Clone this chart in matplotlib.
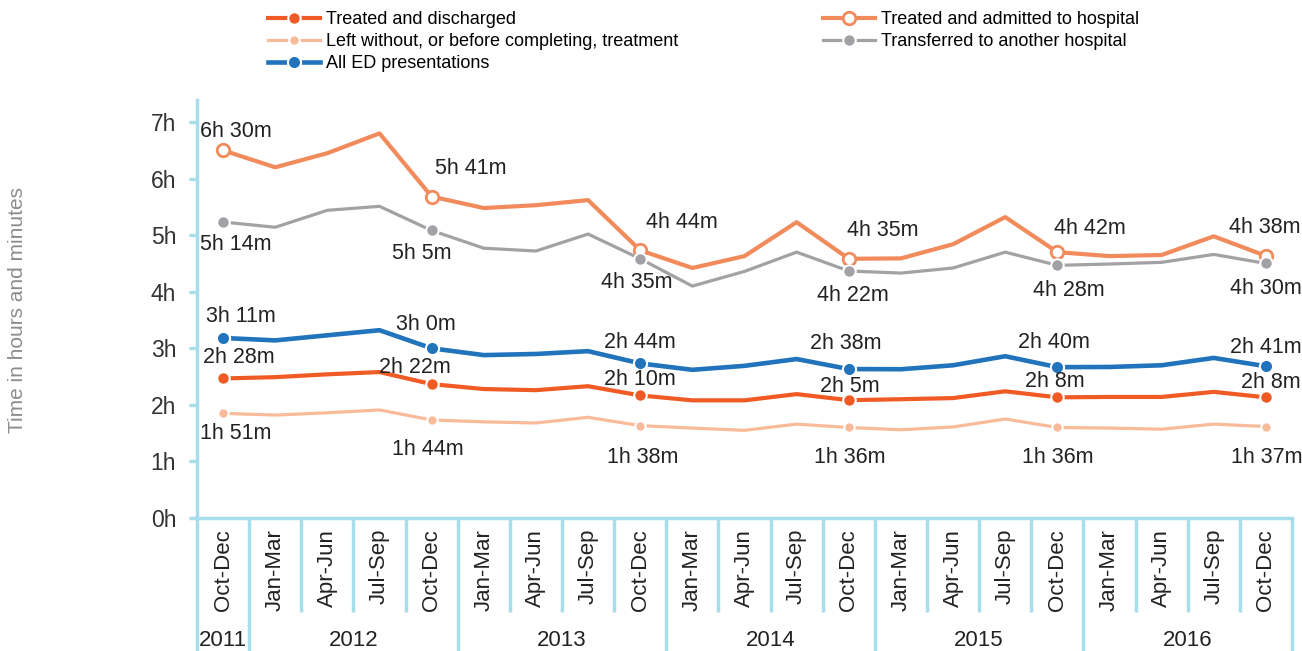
import numpy as np
import matplotlib
matplotlib.use("Agg")
import matplotlib.pyplot as plt
import matplotlib.transforms as mtransforms

plt.rcParams['font.family'] = ['Liberation Sans', 'DejaVu Sans']

# ===================== 数据 =====================
quarters = ["Oct-Dec",
            "Jan-Mar", "Apr-Jun", "Jul-Sep", "Oct-Dec",
            "Jan-Mar", "Apr-Jun", "Jul-Sep", "Oct-Dec",
            "Jan-Mar", "Apr-Jun", "Jul-Sep", "Oct-Dec",
            "Jan-Mar", "Apr-Jun", "Jul-Sep", "Oct-Dec",
            "Jan-Mar", "Apr-Jun", "Jul-Sep", "Oct-Dec"]
years = ["2011", "2012", "2013", "2014", "2015", "2016"]
year_first = [0, 1, 5, 9, 13, 17]
year_last = [0, 4, 8, 12, 16, 20]

# hours
discharged = [2.467, 2.49, 2.54, 2.58, 2.367, 2.28, 2.26, 2.33, 2.167, 2.08, 2.08,
              2.19, 2.083, 2.10, 2.12, 2.24, 2.133, 2.14, 2.14, 2.23, 2.133]
admitted = [6.5, 6.20, 6.45, 6.80, 5.683, 5.48, 5.53, 5.62, 4.733, 4.42, 4.63,
            5.23, 4.583, 4.59, 4.84, 5.32, 4.70, 4.63, 4.65, 4.98, 4.633]
left_early = [1.85, 1.82, 1.86, 1.91, 1.733, 1.70, 1.68, 1.78, 1.633, 1.59, 1.55,
              1.66, 1.60, 1.56, 1.61, 1.75, 1.60, 1.59, 1.57, 1.66, 1.617]
transferred = [5.233, 5.14, 5.44, 5.51, 5.083, 4.77, 4.72, 5.02, 4.583, 4.10, 4.36,
               4.70, 4.367, 4.33, 4.42, 4.70, 4.467, 4.49, 4.52, 4.66, 4.5]
all_ed = [3.183, 3.14, 3.23, 3.32, 3.0, 2.88, 2.90, 2.95, 2.733, 2.62, 2.69,
          2.81, 2.633, 2.63, 2.70, 2.86, 2.667, 2.67, 2.70, 2.83, 2.683]

label_idx = [0, 4, 8, 12, 16, 20]
ytick_vals = [0, 1, 2, 3, 4, 5, 6, 7]
ytick_labels = ["0h", "1h", "2h", "3h", "4h", "5h", "6h", "7h"]

C_DIS = "#F05A24"
C_ADM = "#F28B5B"
C_LEFT = "#F9BB9A"
C_TRF = "#A2A2A6"
C_ALL = "#2174BB"
C_AXIS = "#A8DDEC"


def fmt_hm(v):
    h = int(v)
    m = int(round((v - h) * 60))
    if m == 60:
        h, m = h + 1, 0
    return f"{h}h {m}m"


# ===================== 绘图 =====================
fig = plt.figure(figsize=(13.02, 6.51), dpi=100)
ax = fig.add_axes([197 / 1302, 1 - 518 / 651, (1292 - 197) / 1302, 418 / 651])
x = np.arange(len(quarters))

series = [
    # values, color, lw, marker size, hollow, label, label offsets (px)
    (discharged, C_DIS, 3.0, 9, False, "Treated and discharged",
     [(16, 21), (-17, 17), (0, 16), (1, 14), (-3, 16), (5, 15)]),
    (left_early, C_LEFT, 2.3, 7.5, False, "Left without, or before completing, treatment",
     [(13, -20), (-4, -30), (2, -32), (1, -30), (0, -30), (1, -31)]),
    (all_ed, C_ALL, 3.3, 9.5, False, "All ED presentations",
     [(18, 21), (-6, 24), (0, 21), (-3, 26), (-3, 25), (0, 19)]),
    (admitted, C_ADM, 3.0, 9, True, "Treated and admitted to hospital",
     [(13, 19), (39, 28), (42, 28), (34, 28), (33, 24), (-1, 28)]),
    (transferred, C_TRF, 2.3, 9, False, "Transferred to another hospital",
     [(13, -22), (-10, -23), (-3, -24), (4, -25), (11, -25), (0, -25)]),
]

handles = []
for vals, col, lw, ms, hollow, lab, offs in series:
    if hollow:
        ln, = ax.plot(x, vals, color=col, lw=lw, marker='o', markevery=label_idx, ms=ms,
                      mfc='white', mec=col, mew=2.0, label=lab, zorder=3)
    else:
        ln, = ax.plot(x, vals, color=col, lw=lw, marker='o', markevery=label_idx, ms=ms,
                      mfc=col, mec='white', mew=1.5, label=lab, zorder=3)
    handles.append(ln)
    for i, (dx, dy) in zip(label_idx, offs):
        ax.annotate(fmt_hm(vals[i]), (x[i], vals[i]), xytext=(dx * 0.72, dy * 0.72),
                    textcoords='offset points', ha='center', va='center',
                    fontsize=15.5, color='#222222', zorder=5)

ax.set_xlim(-0.5, len(quarters) - 0.5)
ax.set_ylim(0, 7.39)
ax.set_yticks(ytick_vals)
ax.set_yticklabels(ytick_labels, fontsize=16.5, color='#333333')
ax.tick_params(axis='y', color=C_AXIS, length=6, width=2.5, pad=9)
ax.set_xticks([])
for s in ['top', 'right']:
    ax.spines[s].set_visible(False)
for s in ['left', 'bottom']:
    ax.spines[s].set_color(C_AXIS)
    ax.spines[s].set_linewidth(2.5)

# x category axis drawn by hand
trans = mtransforms.blended_transform_factory(ax.transData, ax.transAxes)
for i, q in enumerate(quarters):
    ax.text(i, -0.026, q, rotation=90, ha='center', va='top', fontsize=16,
            color='#222222', transform=trans)
year_bounds = [f - 0.5 for f in year_first] + [year_last[-1] + 0.5]
for b in np.arange(-0.5, len(quarters), 1.0):
    bottom = -0.325 if b in year_bounds else -0.225
    ax.plot([b, b], [0, bottom], color=C_AXIS, lw=2.5, transform=trans,
            clip_on=False, solid_capstyle='butt')
for yr, f, l in zip(years, year_first, year_last):
    ax.text((f + l) / 2, -0.292, yr, ha='center', va='center', fontsize=16,
            color='#222222', transform=trans)

fig.text(18 / 1302, 1 - 310 / 651, "Time in hours and minutes", rotation=90,
         ha='center', va='center', fontsize=15, color='#8C8C8C')

# legends
leg_kw = dict(frameon=False, fontsize=13, handlelength=2.9, handletextpad=0.3,
              labelspacing=0.28, borderpad=0, borderaxespad=0, loc='upper left')
fig.legend(handles=handles[:3], bbox_to_anchor=(268 / 1302, 1 - 11 / 651), **leg_kw)
fig.legend(handles=handles[3:], bbox_to_anchor=(823 / 1302, 1 - 11 / 651), **leg_kw)

plt.savefig('out.png', dpi=100)
